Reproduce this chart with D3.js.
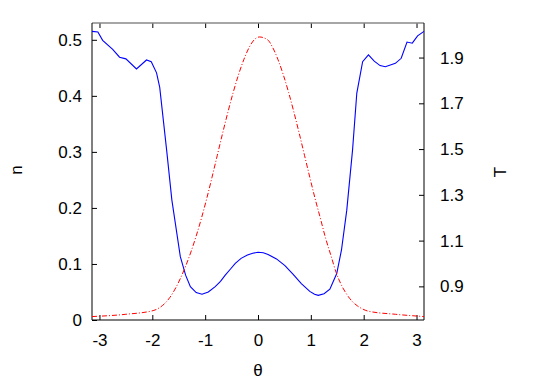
<!DOCTYPE html>
<html>
<head>
    <meta charset="utf-8" />
    <title></title>
    <style>
        body { margin: 0; background: #fff; }
        text { font-family: "Liberation Sans", Arial, sans-serif; }
    </style>
</head>
<body>
    <div id="chart"></div>
    <script src="https://cdn.jsdelivr.net/npm/d3@7"></script>
    <script>
        // density n(theta), left axis
        var nTheta = [-3.1416, -3.03, -2.94, -2.75, -2.62, -2.50, -2.30, -2.11, -2.02, -1.92, -1.86, -1.73, -1.63,
            -1.47, -1.37, -1.28, -1.17, -1.06, -0.94, -0.81, -0.71, -0.62, -0.52, -0.43, -0.32, -0.20, -0.10, 0,
            0.10, 0.19, 0.35, 0.51, 0.67, 0.82, 0.98, 1.07, 1.14, 1.25, 1.36, 1.49, 1.58, 1.68, 1.79, 1.87, 1.98,
            2.09, 2.20, 2.31, 2.41, 2.60, 2.71, 2.82, 2.92, 3.02, 3.1416];
        var nValues = [0.515, 0.514, 0.499, 0.483, 0.469, 0.466, 0.448, 0.464, 0.461, 0.441, 0.415, 0.304, 0.214,
            0.113, 0.080, 0.0595, 0.049, 0.046, 0.050, 0.0595, 0.069, 0.080, 0.091, 0.101, 0.110, 0.116, 0.119,
            0.121, 0.120, 0.117, 0.109, 0.097, 0.081, 0.065, 0.051, 0.046, 0.044, 0.047, 0.055, 0.083, 0.125,
            0.196, 0.304, 0.405, 0.461, 0.473, 0.462, 0.454, 0.452, 0.458, 0.467, 0.496, 0.494, 0.507, 0.515];

        // temperature T(theta), right axis
        var tTheta = [-3.1416, -2.5, -1.97, -1.87, -1.77, -1.67, -1.57, -1.47, -1.37, -1.27, -1.17, -1.07, -0.97,
            -0.87, -0.77, -0.67, -0.57, -0.47, -0.37, -0.27, -0.17, -0.07, 0.025, 0.18, 0.28, 0.38, 0.48, 0.58,
            0.68, 0.78, 0.88, 0.98, 1.08, 1.18, 1.28, 1.38, 1.48, 1.58, 1.68, 1.78, 1.88, 1.98, 2.08, 2.6, 3.1416];
        var tValues = [0.768, 0.778, 0.795, 0.806, 0.824, 0.851, 0.888, 0.934, 0.988, 1.050, 1.120, 1.198, 1.284,
            1.377, 1.473, 1.569, 1.661, 1.747, 1.824, 1.890, 1.943, 1.978, 1.990, 1.978, 1.943, 1.890, 1.824,
            1.747, 1.661, 1.569, 1.473, 1.377, 1.284, 1.198, 1.110, 1.035, 0.960, 0.905, 0.865, 0.835, 0.815,
            0.801, 0.792, 0.778, 0.768];

        var xTicks = [-3, -2, -1, 0, 1, 2, 3];
        var nTicks = [0, 0.1, 0.2, 0.3, 0.4, 0.5];
        var tTicks = [0.9, 1.1, 1.3, 1.5, 1.7, 1.9];

        var width = 545, height = 382;
        var margin = {top: 23, right: 121, bottom: 62, left: 92};
        var w = width - margin.left - margin.right;
        var h = height - margin.top - margin.bottom;
        var fs = 17;

        var svg = d3.select("#chart").append("svg")
            .attr("width", width)
            .attr("height", height);
        var g = svg.append("g")
            .attr("transform", `translate(${margin.left},${margin.top})`);

        var x = d3.scaleLinear().domain([-Math.PI, Math.PI]).range([0, w]);
        var yN = d3.scaleLinear().domain([0, 0.53]).range([h, 0]);
        var yT = d3.scaleLinear().domain([0.753, 2.051]).range([h, 0]);

        // axes, ticks pointing inward
        var axBottom = g.append("g")
            .attr("transform", `translate(0,${h})`)
            .call(d3.axisBottom(x).tickValues(xTicks).tickSize(-5).tickPadding(14).tickFormat(d => String(d)));
        var axTop = g.append("g")
            .call(d3.axisTop(x).tickValues(xTicks).tickSize(-5).tickFormat(""));
        var axLeft = g.append("g")
            .call(d3.axisLeft(yN).tickValues(nTicks).tickSize(-5).tickPadding(10)
                .tickFormat(d => d === 0 ? "0" : d3.format(".1f")(d)));
        var axRight = g.append("g")
            .attr("transform", `translate(${w},0)`)
            .call(d3.axisRight(yT).tickValues(tTicks).tickSize(-5).tickPadding(16).tickFormat(d3.format(".1f")));

        [axBottom, axTop, axLeft, axRight].forEach(function (a) {
            a.select(".domain").remove();
            a.selectAll("line").attr("stroke", "#000");
            a.selectAll("text").attr("font-size", fs).attr("fill", "#000")
                .attr("font-family", "Liberation Sans, Arial, sans-serif");
        });

        // frame
        g.append("line").attr("x1", 0).attr("x2", w).attr("y1", 0).attr("y2", 0)
            .attr("stroke", "#888").attr("stroke-width", 1.5);
        g.append("line").attr("x1", 0).attr("x2", w).attr("y1", h).attr("y2", h)
            .attr("stroke", "#000");
        g.append("line").attr("x1", 0).attr("x2", 0).attr("y1", 0).attr("y2", h)
            .attr("stroke", "#000");
        g.append("line").attr("x1", w).attr("x2", w).attr("y1", 0).attr("y2", h)
            .attr("stroke", "#000");

        var nData = nTheta.map((t, i) => ({t: t, v: nValues[i]}));
        var tData = tTheta.map((t, i) => ({t: t, v: tValues[i]}));

        g.append("path")
            .datum(nData)
            .attr("fill", "none")
            .attr("stroke", "#0000ff")
            .attr("stroke-width", 1.1)
            .attr("d", d3.line().x(d => x(d.t)).y(d => yN(d.v)));

        g.append("path")
            .datum(tData)
            .attr("fill", "none")
            .attr("stroke", "#ff0000")
            .attr("stroke-width", 1)
            .attr("stroke-dasharray", "5,2,1,2")
            .attr("d", d3.line().x(d => x(d.t)).y(d => yT(d.v)).curve(d3.curveMonotoneX));

        // axis titles
        svg.append("text")
            .attr("transform", "translate(22,170) rotate(-90)")
            .attr("text-anchor", "middle")
            .attr("font-size", fs)
            .text("n");
        svg.append("text")
            .attr("transform", "translate(506,172) rotate(-90)")
            .attr("text-anchor", "middle")
            .attr("font-size", fs)
            .text("T");
        svg.append("text")
            .attr("x", margin.left + x(0))
            .attr("y", 376)
            .attr("text-anchor", "middle")
            .attr("font-size", fs)
            .text("θ");
    </script>
</body>
</html>
